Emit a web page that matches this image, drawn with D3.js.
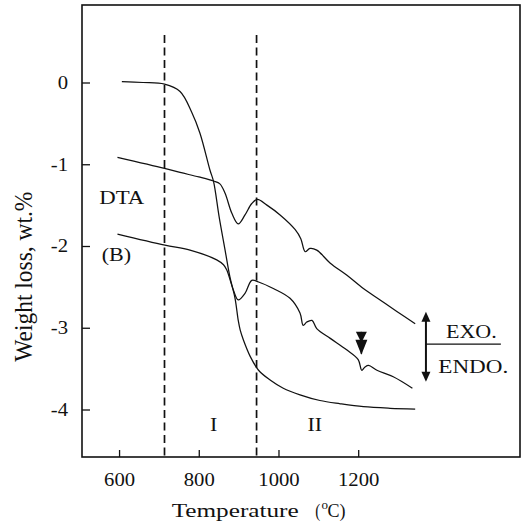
<!DOCTYPE html>
<html>
<head>
<meta charset="utf-8">
<script src="https://cdn.jsdelivr.net/npm/d3@7"></script>
<style>
  html, body { margin: 0; padding: 0; background: #fff; }
  svg { display: block; }
  text { font-family: "Liberation Serif", "Times New Roman", serif; fill: #111; }
</style>
</head>
<body>
<script>
// Thermogravimetric (TG) weight-loss curve and two DTA traces, sample (B)
const xTicks = [600, 800, 1000, 1200];
const yTicks = [0, -1, -2, -3, -4];

// Stage boundaries (°C)
const stageBounds = [714, 945];
const stageNames = ["I", "II"];

// TG curve: [temperature °C, weight loss wt.%]
const tgCurve = [
  [607, 0.01], [660, 0.0], [714, -0.02], [753, -0.11], [782, -0.36],
  [803, -0.62], [828, -1.07], [837, -1.21], [851, -1.64], [866, -2.05],
  [878, -2.375], [891, -2.64], [899, -2.91], [904, -3.03], [912, -3.15],
  [929, -3.35], [950, -3.52], [979, -3.64], [1012, -3.74], [1054, -3.82],
  [1104, -3.89], [1155, -3.93], [1213, -3.966], [1280, -3.985], [1343, -3.994]
];

// Upper DTA trace
const dtaUpper = [
  [596, -0.915], [714, -1.05], [753, -1.10], [800, -1.155], [837, -1.205],
  [853, -1.24], [866, -1.355], [883, -1.60], [899, -1.73], [916, -1.62],
  [933, -1.48], [947, -1.43], [971, -1.50], [1004, -1.62], [1042, -1.80],
  [1056, -1.91], [1067, -2.07], [1079, -2.03], [1096, -2.05], [1130, -2.21],
  [1171, -2.355], [1213, -2.52], [1255, -2.66], [1297, -2.80], [1343, -2.95]
];

// Lower DTA trace
const dtaLower = [
  [596, -1.855], [715, -1.99], [778, -2.05], [845, -2.17], [862, -2.23],
  [870, -2.29], [887, -2.54], [899, -2.66], [916, -2.58], [933, -2.42],
  [950, -2.44], [987, -2.52], [1029, -2.64], [1054, -2.82], [1062, -2.97],
  [1071, -2.93], [1084, -2.91], [1096, -3.01], [1130, -3.13], [1171, -3.27],
  [1200, -3.39], [1209, -3.52], [1217, -3.48], [1226, -3.46], [1247, -3.52],
  [1288, -3.60], [1336, -3.74]
];

// Event marker above the lower DTA trace
const markerPoint = [1208, -3.05];

const W = 524, H = 525;
const svg = d3.select("body").append("svg").attr("width", W).attr("height", H);

const x = d3.scaleLinear().domain([507, 1606]).range([82, 520]);
const y = d3.scaleLinear().domain([-4.581, 0.948]).range([457, 5]);
const SX = 1.15; // horizontal stretch of the lettering

// Axes with inward ticks
const yAxis = d3.axisLeft(y).tickValues(yTicks).tickSize(-8).tickSizeOuter(0)
  .tickFormat(d => String(d));
const gy = svg.append("g").attr("transform", `translate(${x.range()[0]},0)`).call(yAxis);
gy.select(".domain").remove();
gy.selectAll(".tick line").attr("stroke", "#111").attr("stroke-width", 1.3);
gy.selectAll(".tick text")
  .attr("x", null).attr("dy", "0.32em")
  .attr("font-size", 18).attr("font-family", null).attr("fill", "#111")
  .attr("transform", `translate(-14,0) scale(${SX},1)`);

const xAxis = d3.axisBottom(x).tickValues(xTicks).tickSize(-7).tickSizeOuter(0)
  .tickFormat(d => String(d));
const gx = svg.append("g").attr("transform", `translate(0,${y.range()[0]})`).call(xAxis);
gx.select(".domain").remove();
gx.selectAll(".tick line").attr("stroke", "#111").attr("stroke-width", 1.3);
gx.selectAll(".tick text")
  .attr("y", null).attr("dy", null)
  .attr("font-size", 18).attr("font-family", null).attr("fill", "#111")
  .attr("transform", `translate(0,29) scale(${SX},1)`);

// Plot frame
svg.append("rect")
  .attr("x", x.range()[0]).attr("y", y.range()[1])
  .attr("width", x.range()[1] - x.range()[0])
  .attr("height", y.range()[0] - y.range()[1])
  .attr("fill", "none").attr("stroke", "#111").attr("stroke-width", 1.6);

// Dashed stage boundaries
svg.selectAll("line.stage").data(stageBounds).enter().append("line")
  .attr("class", "stage")
  .attr("x1", d => x(d)).attr("x2", d => x(d))
  .attr("y1", y(0.58)).attr("y2", y.range()[0])
  .attr("stroke", "#111").attr("stroke-width", 1.7)
  .attr("stroke-dasharray", "8,4.5");

// Curves
const line = d3.line()
  .x(d => x(d[0])).y(d => y(d[1]))
  .curve(d3.curveCatmullRom.alpha(0.5));

[tgCurve, dtaUpper, dtaLower].forEach(series => {
  svg.append("path").datum(series)
    .attr("d", line)
    .attr("fill", "none").attr("stroke", "#111").attr("stroke-width", 1.25)
    .attr("stroke-linejoin", "round");
});

// Double down-pointing marker
const mx = x(markerPoint[0]), my = y(markerPoint[1]);
svg.append("line").attr("x1", mx).attr("x2", mx).attr("y1", my).attr("y2", my + 22)
  .attr("stroke", "#111").attr("stroke-width", 1.5);
svg.append("path")
  .attr("d", `M${mx - 5.5},${my} L${mx + 5.5},${my} L${mx},${my + 11} Z`)
  .attr("fill", "#111");
svg.append("path")
  .attr("d", `M${mx - 6},${my + 8} L${mx + 6},${my + 8} L${mx},${my + 23} Z`)
  .attr("fill", "#111");

// EXO / ENDO indicator
const ax = x(1370), aTop = y(-2.804), aBot = y(-3.66), aMid = y(-3.20);
svg.append("line").attr("x1", ax).attr("x2", ax).attr("y1", aTop + 6).attr("y2", aBot - 6)
  .attr("stroke", "#111").attr("stroke-width", 2);
svg.append("path")
  .attr("d", `M${ax},${aTop} L${ax + 4.5},${aTop + 10} L${ax - 4.5},${aTop + 10} Z`)
  .attr("fill", "#111");
svg.append("path")
  .attr("d", `M${ax},${aBot} L${ax + 4.5},${aBot - 10} L${ax - 4.5},${aBot - 10} Z`)
  .attr("fill", "#111");
svg.append("line").attr("x1", ax).attr("x2", x(1558)).attr("y1", aMid).attr("y2", aMid)
  .attr("stroke", "#111").attr("stroke-width", 1.3);

function stretchedText(str, px, py, size, len) {
  return svg.append("text")
    .attr("x", px).attr("y", py)
    .attr("font-size", size)
    .attr("textLength", len).attr("lengthAdjust", "spacingAndGlyphs")
    .text(str);
}

stretchedText("EXO.", 446, 338.3, 19.5, 50.7);
stretchedText("ENDO.", 438.3, 372.7, 19.5, 70);
stretchedText("DTA", 99.3, 204.3, 19, 45);
stretchedText("(B)", 101.7, 260.5, 19, 29.3);

// Stage labels
const stageLabelT = [837, 1091];
stageNames.forEach((s, i) => {
  svg.append("text")
    .attr("transform", `translate(${x(stageLabelT[i])},431) scale(${SX},1)`)
    .attr("text-anchor", "middle").attr("font-size", 19)
    .text(s);
});

// Axis titles
stretchedText("Temperature", 171.7, 517, 19.5, 127);
stretchedText("(", 315.3, 517, 19.5, 5);
svg.append("text").attr("x", 321.5).attr("y", 509).attr("font-size", 12)
  .attr("textLength", 6.5).attr("lengthAdjust", "spacingAndGlyphs").text("o");
stretchedText("C)", 327.5, 517, 19.5, 18);

svg.append("text")
  .attr("transform", `translate(31.7,276.7) scale(1.18,1) rotate(-90)`)
  .attr("text-anchor", "middle").attr("font-size", 22)
  .attr("textLength", 170).attr("lengthAdjust", "spacingAndGlyphs")
  .text("Weight loss, wt.%");
</script>
</body>
</html>
